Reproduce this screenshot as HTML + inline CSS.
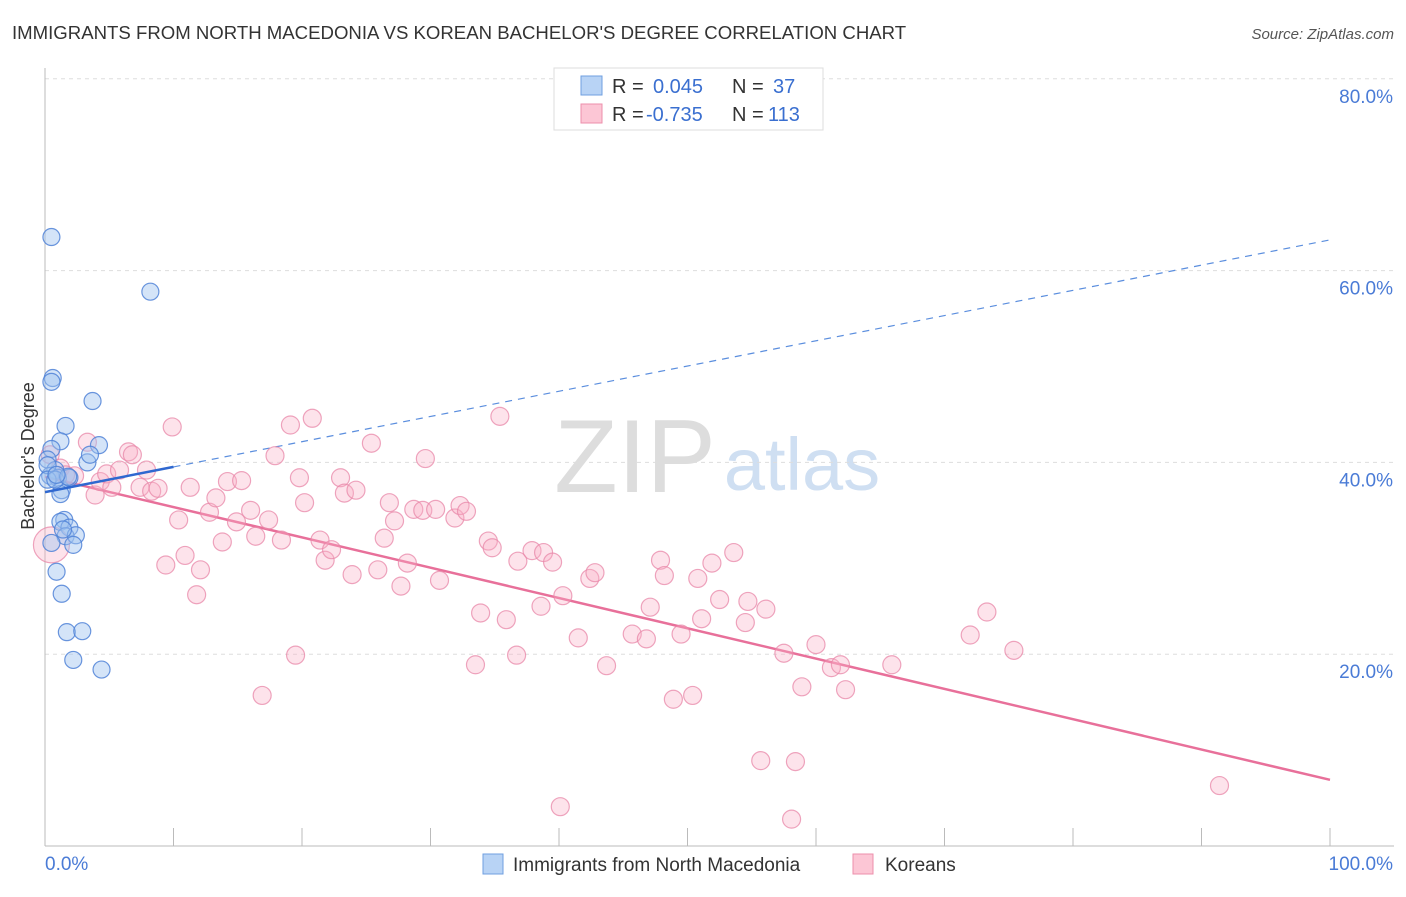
<!DOCTYPE html>
<html><head><meta charset="utf-8"><style>
body{margin:0;background:#fff;font-family:"Liberation Sans",sans-serif;}
svg text{font-family:"Liberation Sans",sans-serif;}
</style></head><body>
<svg id="chart" width="1406" height="892">
<text x="12" y="39" font-size="18.6" fill="#333">IMMIGRANTS FROM NORTH MACEDONIA VS KOREAN BACHELOR'S DEGREE CORRELATION CHART</text>
<text x="1394" y="39" font-size="15" fill="#555" font-style="italic" text-anchor="end">Source: ZipAtlas.com</text>
<text transform="translate(34,456) rotate(-90)" font-size="18" fill="#333" text-anchor="middle">Bachelor's Degree</text>
<g>
<text x="635" y="492" font-size="104" fill="#ddd" font-family="Liberation Serif" text-anchor="middle">ZIP</text>
<text x="802" y="490" font-size="74" fill="#cfdff2" text-anchor="middle">atlas</text>
</g>
<g id="grid"></g><g id="axes"></g><g id="lines"></g><g id="pts"></g>
<g>
<rect x="554" y="68" width="269" height="62" fill="#fff" stroke="#ddd"/>
<rect x="581" y="76" width="21" height="19" fill="#b8d3f5" stroke="#6f9fe0"/>
<rect x="581" y="104" width="21" height="19" fill="#fcc6d5" stroke="#ec8fab"/>
<text x="612" y="93" font-size="20" fill="#333">R = </text><text x="653" y="93" font-size="20" fill="#3a6fd0">0.045</text>
<text x="732" y="93" font-size="20" fill="#333">N = </text><text x="773" y="93" font-size="20" fill="#3a6fd0">37</text>
<text x="612" y="121" font-size="20" fill="#333">R = </text><text x="646" y="121" font-size="20" fill="#3a6fd0">-0.735</text>
<text x="732" y="121" font-size="20" fill="#333">N = </text><text x="768" y="121" font-size="20" fill="#3a6fd0">113</text>
</g>
<g>
<rect x="483" y="854" width="20" height="20" fill="#b8d3f5" stroke="#6f9fe0"/>
<text x="513" y="871" font-size="19" fill="#333">Immigrants from North Macedonia</text>
<rect x="853" y="854" width="20" height="20" fill="#fcc6d5" stroke="#ec8fab"/>
<text x="885" y="871" font-size="19" fill="#333">Koreans</text>
</g>
</svg>
<script>
const yTicks=[20,40,60,80];
const xTickLabels=["0.0%","100.0%"];
const blueX=[0.5,8.2,0.6,0.5,3.7,1.6,4.2,1.2,0.5,3.3,3.5,0.2,0.8,0.4,1.0,1.3,1.2,1.9,1.5,1.2,1.9,1.6,2.4,2.2,0.5,0.9,1.3,1.7,2.9,2.2,4.4,0.2,0.2,0.8,1.8,0.9,1.4];
const blueY=[63.5,57.8,48.8,48.4,46.4,43.8,41.8,42.2,41.4,40.0,40.8,40.3,39.2,38.6,38.4,37.1,36.7,38.4,34.0,33.8,33.2,32.3,32.4,31.4,31.6,28.6,26.3,22.3,22.4,19.4,18.4,39.7,38.2,38.2,38.5,38.7,33.0];
const pinkX=[0.5,0.4,3.3,1.2,2.3,1.6,3.9,4.3,4.8,5.2,6.5,6.8,5.8,7.9,7.4,8.3,8.8,9.9,10.4,10.9,9.4,11.3,11.8,12.1,12.8,13.3,13.8,14.2,14.9,15.3,16.0,16.4,16.9,17.4,17.9,18.4,19.1,19.5,19.8,20.2,20.8,21.4,21.8,22.3,23.0,23.3,23.9,24.2,25.4,25.9,26.4,26.8,27.2,27.7,28.2,28.7,29.4,29.6,30.4,30.7,31.9,32.3,32.8,33.5,33.9,34.5,34.8,35.4,35.9,36.7,36.8,37.9,38.6,38.8,39.5,40.1,40.3,41.5,42.4,42.8,43.7,45.7,46.8,47.1,47.9,48.2,48.9,49.5,50.4,50.8,51.1,51.9,52.5,53.6,54.5,54.7,55.7,56.1,57.5,58.1,58.4,58.9,60.0,61.2,61.9,62.3,65.9,72.0,73.3,75.4,91.4];
const pinkY=[31.4,40.8,42.1,39.4,38.6,38.7,36.6,38.0,38.8,37.4,41.1,40.8,39.2,39.2,37.4,37.0,37.3,43.7,34.0,30.3,29.3,37.4,26.2,28.8,34.8,36.3,31.7,38.0,33.8,38.1,35.0,32.3,15.7,34.0,40.7,31.9,43.9,19.9,38.4,35.8,44.6,31.9,29.8,30.9,38.4,36.8,28.3,37.1,42.0,28.8,32.1,35.8,33.9,27.1,29.5,35.1,35.0,40.4,35.1,27.7,34.2,35.5,34.9,18.9,24.3,31.8,31.1,44.8,23.6,19.9,29.7,30.8,25.0,30.6,29.6,4.1,26.1,21.7,27.9,28.5,18.8,22.1,21.6,24.9,29.8,28.2,15.3,22.1,15.7,27.9,23.7,29.5,25.7,30.6,23.3,25.5,8.9,24.7,20.1,2.8,8.8,16.6,21.0,18.6,18.9,16.3,18.9,22.0,24.4,20.4,6.3];
const blueTrend=[36.9,63.2];
const pinkTrend=[38.5,6.9];
const X=v=>45+v*12.85, Y=v=>846-v*9.59;
const NS="http://www.w3.org/2000/svg";
function mk(p,t,a){const e=document.createElementNS(NS,t);for(const k in a)e.setAttribute(k,a[k]);document.getElementById(p).appendChild(e);return e;}
yTicks.forEach(t=>{
 const l=mk('grid','line',{x1:45,x2:1394,y1:Y(t),y2:Y(t),stroke:'#ddd','stroke-dasharray':'4,4'});
 
 
 const tx=mk('axes','text',{x:1393,y:Y(t)+24,'font-size':19,fill:'#4a7bd6','text-anchor':'end'});tx.textContent=t.toFixed(1)+'%';
 
 
});
const ax=mk('axes','line',{x1:45,x2:45,y1:68,y2:846,stroke:'#bbb'});


const bx=mk('axes','line',{x1:45,x2:1394,y1:846,y2:846,stroke:'#bbb'});


for(let i=0;i<=10;i++){const t=mk('axes','line',{x1:X(i*10),x2:X(i*10),y1:828,y2:846,stroke:'#bbb'});
 
 }
const xl0=mk('axes','text',{x:45,y:870,'font-size':19,fill:'#4a7bd6'});xl0.textContent=xTickLabels[0];


const xl1=mk('axes','text',{x:1393,y:870,'font-size':19,fill:'#4a7bd6','text-anchor':'end'});xl1.textContent=xTickLabels[1];


const bslope=(blueTrend[1]-blueTrend[0])/100;
const bd=mk('lines','line',{x1:X(10),y1:Y(blueTrend[0]+bslope*10),x2:X(100),y2:Y(blueTrend[1]),stroke:'#5b8ede','stroke-width':1.2,'stroke-dasharray':'7,6'});


const pl=mk('lines','line',{x1:X(0),y1:Y(pinkTrend[0]),x2:X(100),y2:Y(pinkTrend[1]),stroke:'#e8709a','stroke-width':2.5});


pinkX.forEach((v,i)=>{const c=mk('pts','circle',{cx:X(v),cy:Y(pinkY[i]),r:i==0?18:9,fill:'rgba(248,175,198,0.35)',stroke:'rgba(232,135,168,0.75)','stroke-width':1.2});
 
 });
blueX.forEach((v,i)=>{const c=mk('pts','circle',{cx:X(v),cy:Y(blueY[i]),r:8.5,fill:'rgba(160,195,240,0.45)',stroke:'rgba(80,130,215,0.85)','stroke-width':1.2});
 
 });
const bl=mk('pts','line',{x1:X(0),y1:Y(blueTrend[0]),x2:X(10),y2:Y(blueTrend[0]+bslope*10),stroke:'#2f68d0','stroke-width':2.5});


</script>
</body></html>
